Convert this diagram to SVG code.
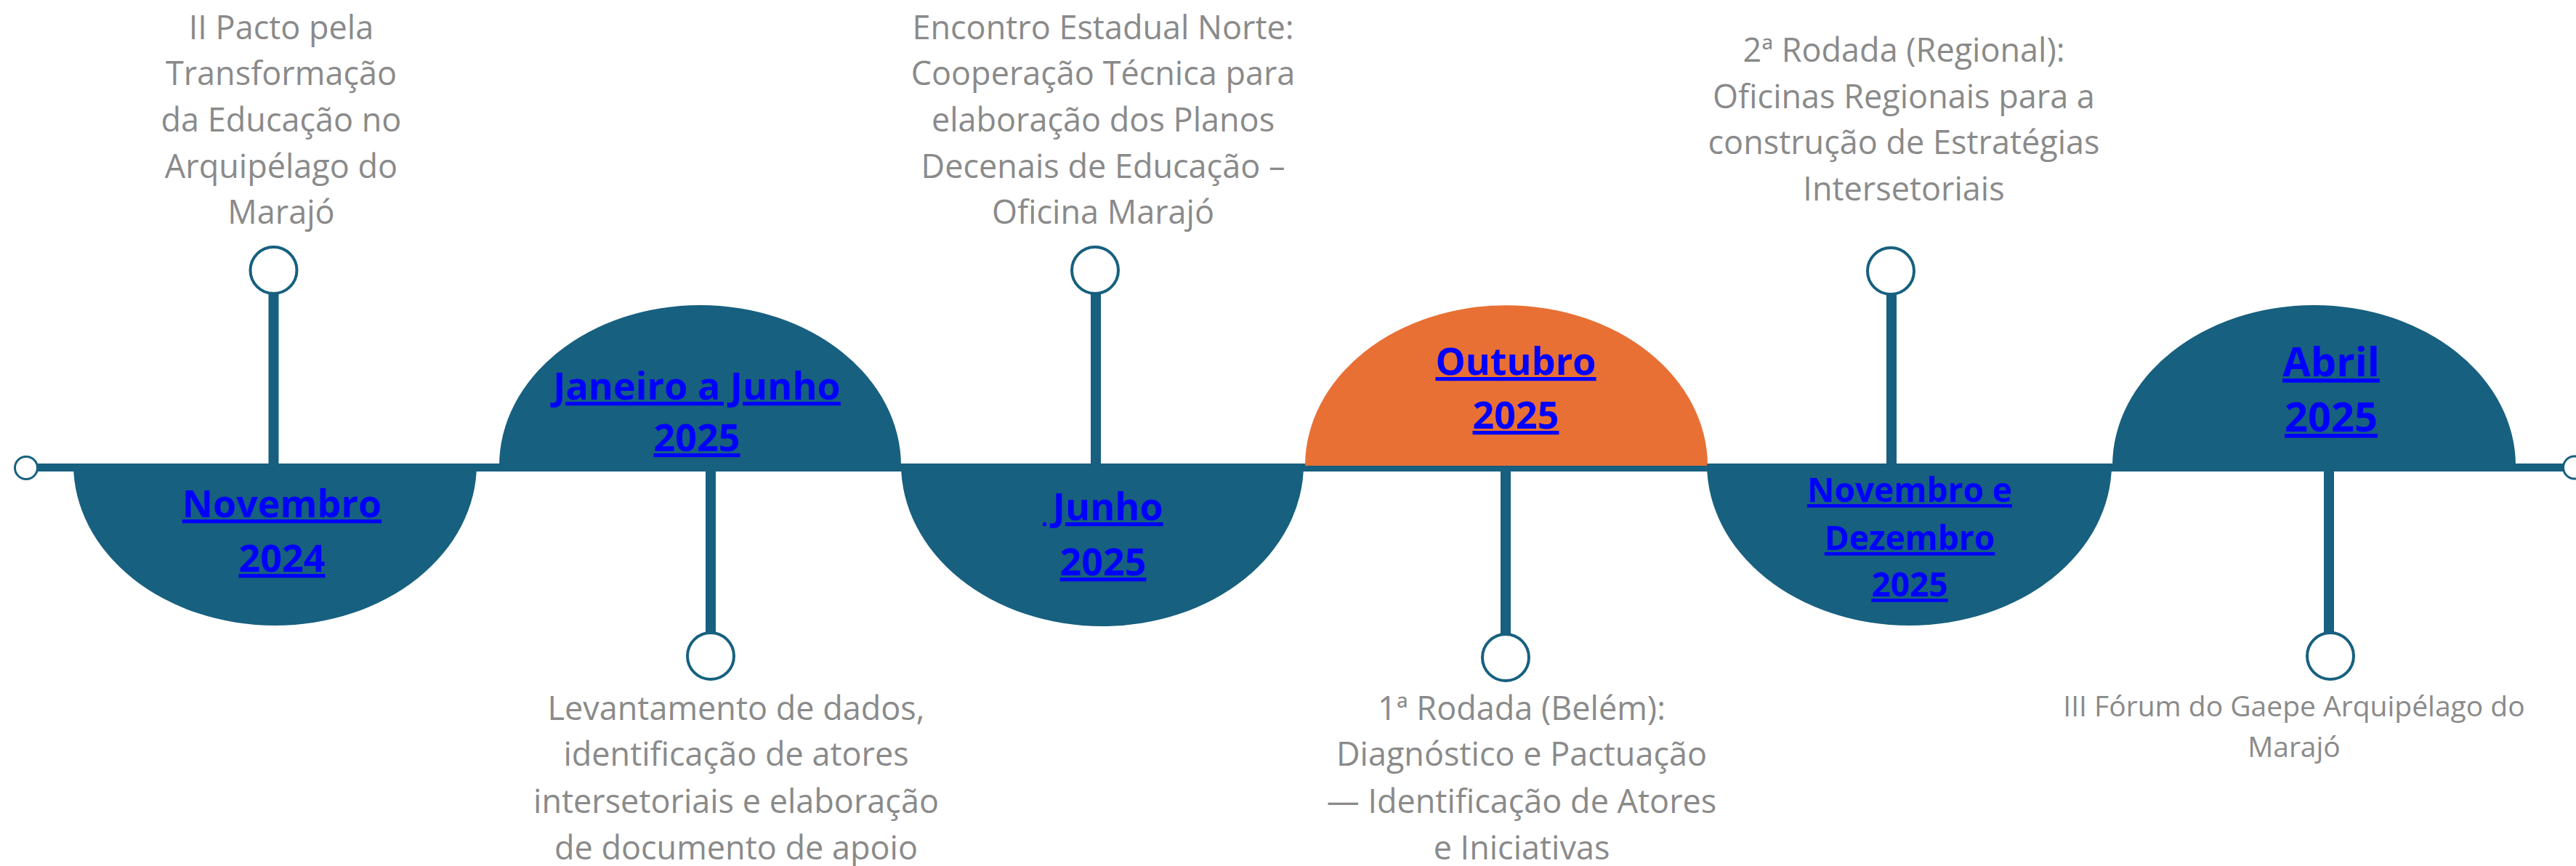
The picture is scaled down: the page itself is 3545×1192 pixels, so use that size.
<svg xmlns="http://www.w3.org/2000/svg" width="3545" height="1192" viewBox="0 0 3545 1192">
<style>
.bg{fill:#ffffff}
.shape{fill:#17607F}
.orange{fill:#E87034}
.stem{stroke:#17607F;stroke-width:14;fill:none}
.axis{stroke:#17607F;stroke-width:11;fill:none}
.dot{fill:#ffffff;stroke:#17607F;stroke-width:4}
.end{fill:#ffffff;stroke:#17607F;stroke-width:3}
.desc{font-family:"Open Sans","Noto Sans","Liberation Sans",sans-serif;font-size:45px;fill:#8A8A8A;text-anchor:middle}
.desc.small{font-size:39px}
.lbl{font-family:"Open Sans","Noto Sans","Liberation Sans",sans-serif;font-weight:bold;font-size:52px;fill:#0000FF;text-anchor:middle;text-decoration:underline}
</style>
<rect class="bg" x="0" y="0" width="3545" height="1192"/>
<g id="connectors">
  <line class="axis" x1="50" y1="643.5" x2="3528" y2="643.5"/>
  <line class="stem" x1="376.5" y1="404" x2="376.5" y2="640"/>
  <line class="stem" x1="978" y1="646" x2="978" y2="871"/>
  <line class="stem" x1="1508" y1="404" x2="1508" y2="640"/>
  <line class="stem" x1="2072" y1="646" x2="2072" y2="873"/>
  <line class="stem" x1="2603" y1="404" x2="2603" y2="640"/>
  <line class="stem" x1="3205" y1="646" x2="3205" y2="871"/>
  <circle class="end" cx="36" cy="644" r="15.5"/>
  <circle class="end" cx="3543" cy="643.5" r="15.5"/>
  <circle class="dot" cx="376.5" cy="372" r="32"/>
  <circle class="dot" cx="978" cy="903" r="32"/>
  <circle class="dot" cx="1507" cy="372" r="32"/>
  <circle class="dot" cx="2072" cy="905" r="32"/>
  <circle class="dot" cx="2602" cy="373" r="32"/>
  <circle class="dot" cx="3207" cy="903" r="32"/>
</g>
<g id="node-nov-2024">
  <path class="shape" d="M101,639 A277.5,222 0 0 0 656,639 Z"/>
  <text class="lbl"><tspan x="388" y="712">Novembro</tspan><tspan x="388" y="787">2024</tspan></text>
</g>
<g id="node-jan-jun-2025">
  <path class="shape" d="M687,641 A276.5,221 0 0 1 1240,641 Z"/>
  <text class="lbl"><tspan x="959" y="550">Janeiro a Junho</tspan><tspan x="959" y="621">2025</tspan></text>
</g>
<g id="node-jun-2025">
  <path class="shape" d="M1240,639 A277,223 0 0 0 1794,639 Z"/>
  <text class="lbl" xml:space="preserve"><tspan x="1518" y="716"> Junho</tspan><tspan x="1518" y="792">2025</tspan></text>
</g>
<g id="node-out-2025">
  <path class="orange" d="M1796,641 A277,221 0 0 1 2350,641 Z"/>
  <text class="lbl"><tspan x="2086" y="516">Outubro</tspan><tspan x="2086" y="590">2025</tspan></text>
</g>
<g id="node-nov-dez-2025">
  <path class="shape" d="M2349,639 A278.5,222 0 0 0 2906,639 Z"/>
  <text class="lbl" style="font-size:46px"><tspan x="2628" y="691">Novembro e</tspan><tspan x="2628" y="757">Dezembro</tspan><tspan x="2628" y="821">2025</tspan></text>
</g>
<g id="node-abr-2025">
  <path class="shape" d="M2907,641 A277.5,221 0 0 1 3462,641 Z"/>
  <text class="lbl" style="font-size:56px"><tspan x="3208" y="518">Abril</tspan><tspan x="3208" y="594">2025</tspan></text>
</g>
<g id="event-ii-pacto">
  <text class="desc"><tspan x="387" y="54">II Pacto pela</tspan><tspan x="387" y="117">Transformação</tspan><tspan x="387" y="181">da Educação no</tspan><tspan x="387" y="245">Arquipélago do</tspan><tspan x="387" y="308">Marajó</tspan></text>
</g>
<g id="event-levantamento">
  <text class="desc"><tspan x="1013" y="991">Levantamento de dados,</tspan><tspan x="1013" y="1054">identificação de atores</tspan><tspan x="1013" y="1119">intersetoriais e elaboração</tspan><tspan x="1013" y="1183">de documento de apoio</tspan></text>
</g>
<g id="event-encontro">
  <text class="desc"><tspan x="1518" y="54">Encontro Estadual Norte:</tspan><tspan x="1518" y="117">Cooperação Técnica para</tspan><tspan x="1518" y="181">elaboração dos Planos</tspan><tspan x="1518" y="245">Decenais de Educação –</tspan><tspan x="1518" y="308">Oficina Marajó</tspan></text>
</g>
<g id="event-1a-rodada">
  <text class="desc"><tspan x="2094" y="991">1ª Rodada (Belém):</tspan><tspan x="2094" y="1054">Diagnóstico e Pactuação</tspan><tspan x="2094" y="1119">— Identificação de Atores</tspan><tspan x="2094" y="1183">e Iniciativas</tspan></text>
</g>
<g id="event-2a-rodada">
  <text class="desc"><tspan x="2620" y="85">2ª Rodada (Regional):</tspan><tspan x="2620" y="149">Oficinas Regionais para a</tspan><tspan x="2620" y="212">construção de Estratégias</tspan><tspan x="2620" y="276">Intersetoriais</tspan></text>
</g>
<g id="event-iii-forum">
  <text class="desc small"><tspan x="3157" y="986">III Fórum do Gaepe Arquipélago do</tspan><tspan x="3157" y="1042">Marajó</tspan></text>
</g>
</svg>
